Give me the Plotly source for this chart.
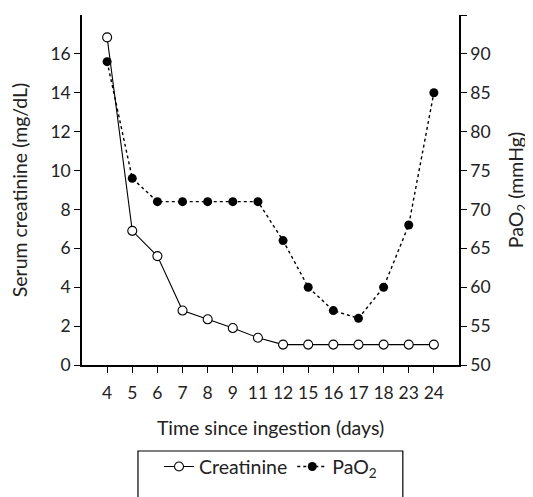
import plotly.graph_objects as go

days = ["4", "5", "6", "7", "8", "9", "11", "12", "15", "16", "17", "18", "23", "24"]
creatinine = [16.85, 6.9, 5.6, 2.8, 2.35, 1.9, 1.4, 1.05, 1.05, 1.05, 1.05, 1.05, 1.05, 1.05]
pao2 = [89, 74, 71, 71, 71, 71, 71, 66, 60, 57, 56, 60, 68, 85]

left_ticks = [0, 2, 4, 6, 8, 10, 12, 14, 16]
right_ticks = [50, 55, 60, 65, 70, 75, 80, 85, 90, 95]

FONT = "Lato"
TICK = 17.5
TITLE = 19.5

fig = go.Figure()
fig.add_trace(go.Scatter(
    x=days, y=pao2, name="PaO<sub>2</sub>", yaxis="y2", mode="lines+markers",
    line=dict(color="black", width=1.4, dash="dot"),
    marker=dict(symbol="circle", size=9, color="black"),
))
fig.add_trace(go.Scatter(
    x=days, y=creatinine, name="Creatinine", mode="lines+markers",
    line=dict(color="black", width=1.1),
    marker=dict(symbol="circle", size=9, color="white", line=dict(color="black", width=1.1)),
))

axis_common = dict(
    showline=True, linecolor="black", linewidth=1.5,
    ticks="outside", ticklen=6, tickcolor="black", tickwidth=1.2, showgrid=False,
    zeroline=False, tickfont=dict(size=TICK), automargin=False,
)

fig.update_layout(
    width=533, height=497,
    margin=dict(l=74, r=82, t=7, b=140),
    paper_bgcolor="white", plot_bgcolor="white",
    font=dict(family=FONT, size=TICK, color="#222"),
    showlegend=True,
    legend=dict(
        orientation="h", x=0.5, xanchor="center", y=-0.291, yanchor="middle",
        borderwidth=0, font=dict(size=TITLE, family=FONT),
        traceorder="reversed", itemwidth=30, bgcolor="rgba(0,0,0,0)",
    ),
    shapes=[dict(
        type="rect", xref="paper", yref="paper",
        x0=0.1485, x1=0.851, y0=-0.2457, y1=-0.45,
        line=dict(color="black", width=1.2), fillcolor="rgba(0,0,0,0)", layer="above",
    )],
    xaxis=dict(
        type="category", range=[-1, 14], ticklabelstandoff=5,
        title=dict(text="Time since ingestion (days)", font=dict(size=TITLE), standoff=20),
        **axis_common,
    ),
    yaxis=dict(
        range=[0, 18], tickvals=left_ticks,
        title=dict(text="Serum creatinine (mg/dL)", font=dict(size=TITLE), standoff=20),
        **axis_common,
    ),
    yaxis2=dict(
        range=[50, 95], tickvals=right_ticks, overlaying="y", side="right",
        title=dict(text="PaO<sub>2</sub> (mmHg)", font=dict(size=TITLE), standoff=20),
        **axis_common,
    ),
)

fig.write_html("out.html")
